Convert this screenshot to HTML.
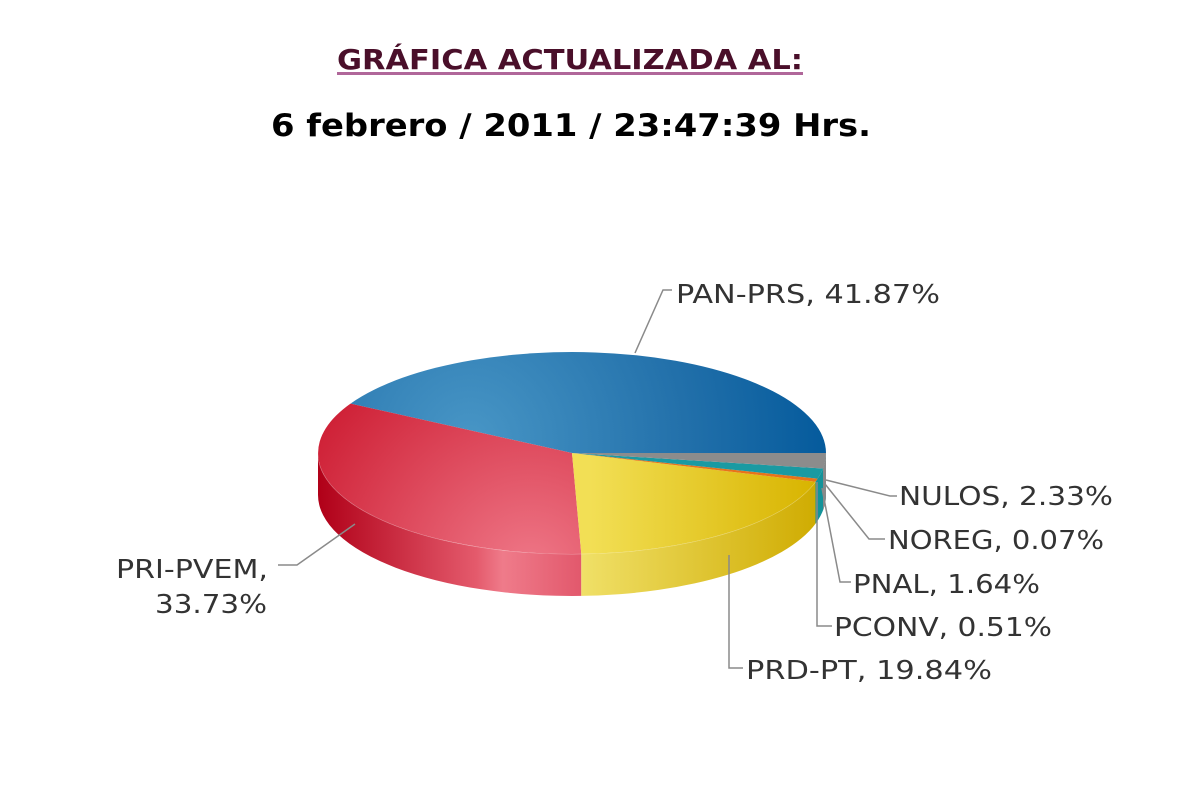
<!DOCTYPE html>
<html><head><meta charset="utf-8"><style>
html,body{margin:0;padding:0;background:#fff;width:1200px;height:800px;overflow:hidden}
</style></head><body>
<svg width="1200" height="800" viewBox="0 0 1200 800" xmlns="http://www.w3.org/2000/svg">
<defs>
<radialGradient id="gb" gradientUnits="userSpaceOnUse" cx="470" cy="440" r="360">
<stop offset="0" stop-color="#4896c6"/><stop offset="0.6" stop-color="#2270aa"/><stop offset="1" stop-color="#045a9c"/></radialGradient>
<radialGradient id="gr" gradientUnits="userSpaceOnUse" cx="530" cy="570" r="270">
<stop offset="0" stop-color="#ef7888"/><stop offset="1" stop-color="#cc1a30"/></radialGradient>
<linearGradient id="gy" gradientUnits="userSpaceOnUse" x1="590" y1="0" x2="815" y2="0">
<stop offset="0" stop-color="#f2df55"/><stop offset="1" stop-color="#d8b400"/></linearGradient>
<linearGradient id="sr" gradientUnits="userSpaceOnUse" x1="318" y1="0" x2="582" y2="0">
<stop offset="0" stop-color="#b00018"/><stop offset="0.6" stop-color="#e45a6c"/><stop offset="0.7" stop-color="#ef7b8a"/><stop offset="1" stop-color="#e2586c"/></linearGradient>
<linearGradient id="sy" gradientUnits="userSpaceOnUse" x1="581" y1="0" x2="820" y2="0">
<stop offset="0" stop-color="#f0e068"/><stop offset="1" stop-color="#cfab00"/></linearGradient>
</defs>

<text x="570" y="69" text-anchor="middle" font-family="DejaVu Sans, Liberation Sans, sans-serif" font-weight="bold" font-size="28" fill="#4a0f2a" textLength="466" lengthAdjust="spacingAndGlyphs">GRÁFICA ACTUALIZADA AL:</text>
<rect x="337" y="72" width="466" height="3" fill="#b0679a"/>
<text x="571" y="136" text-anchor="middle" font-family="DejaVu Sans, Liberation Sans, sans-serif" font-weight="bold" font-size="31" fill="#000" textLength="600" lengthAdjust="spacingAndGlyphs">6 febrero / 2011 / 23:47:39 Hrs.</text>

<path d="M318,453 A254,101 0 0 0 581.3,553.9 L581.3,595.9 A254,101 0 0 1 318,495 Z" fill="url(#sr)"/>
<path d="M581.3,553.9 A254,101 0 0 0 815.5,481.7 L815.5,523.7 A254,101 0 0 1 581.3,595.9 Z" fill="url(#sy)"/>
<path d="M815.5,481.7 A254,101 0 0 0 826,453 L826,495 A254,101 0 0 1 815.5,523.7 Z" fill="#14939a"/>
<path d="M823,468.5 A254,101 0 0 0 826,453 L826,495 A254,101 0 0 1 823,510.5 Z" fill="#8a8a8a"/>
<path d="M318,453 A254,101 0 0 0 815.5,481.7" fill="none" stroke="#fff" stroke-opacity="0.35" stroke-width="1"/>

<path d="M572,453 L826,453 A254,101 0 0 0 350.5,403.6 Z" fill="url(#gb)"/>
<path d="M572,453 L350.5,403.6 A254,101 0 0 0 581.3,553.9 Z" fill="url(#gr)"/>
<path d="M572,453 L581.3,553.9 A254,101 0 0 0 815.5,481.7 Z" fill="url(#gy)"/>
<path d="M572,453 L815.5,481.7 A254,101 0 0 0 817.7,478.6 Z" fill="#e8731a"/>
<path d="M572,453 L817.7,478.6 A254,101 0 0 0 823,468.5 Z" fill="#1a9aa2"/>
<path d="M572,453 L823,468.5 A254,101 0 0 0 826,453 Z" fill="#8c8c8c"/>

<g fill="none" stroke="#8a8a8a" stroke-width="1.5">
<polyline points="635,353 663,290 672,290"/>
<polyline points="826,480 890,496 897,496"/>
<polyline points="825,484 869,539 885,539"/>
<polyline points="822,488 840,582 851,582"/>
<polyline points="817,482 817,626 832,626"/>
<polyline points="729,555 729,668 743,668"/>
<polyline points="355,524 297,565 278,565"/>
</g>

<g font-family="DejaVu Sans, Liberation Sans, sans-serif" font-size="26" fill="#333">
<text x="676" y="303" textLength="264" lengthAdjust="spacingAndGlyphs">PAN-PRS, 41.87%</text>
<text x="899" y="505" textLength="214" lengthAdjust="spacingAndGlyphs">NULOS, 2.33%</text>
<text x="888" y="549" textLength="216" lengthAdjust="spacingAndGlyphs">NOREG, 0.07%</text>
<text x="853" y="593" textLength="187" lengthAdjust="spacingAndGlyphs">PNAL, 1.64%</text>
<text x="834" y="636" textLength="218" lengthAdjust="spacingAndGlyphs">PCONV, 0.51%</text>
<text x="746" y="679" textLength="246" lengthAdjust="spacingAndGlyphs">PRD-PT, 19.84%</text>
<text x="116" y="578" textLength="152" lengthAdjust="spacingAndGlyphs">PRI-PVEM,</text>
<text x="155" y="613" textLength="112" lengthAdjust="spacingAndGlyphs">33.73%</text>
</g>
</svg>
</body></html>
